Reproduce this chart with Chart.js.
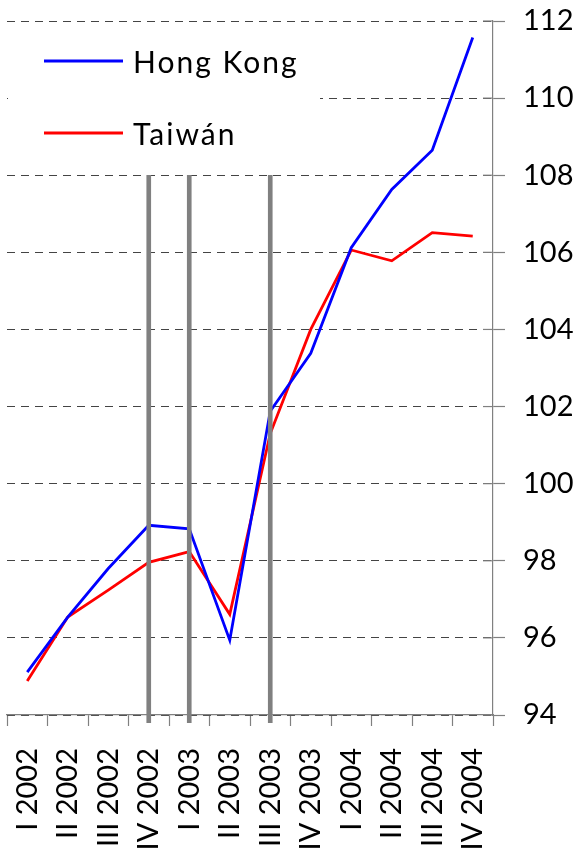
<!DOCTYPE html>
<html>
<head>
<meta charset="utf-8">
<title>Hong Kong / Taiwán</title>
<script src="https://cdn.jsdelivr.net/npm/chart.js@4.4.1/dist/chart.umd.min.js"></script>
<style>
  html, body { margin: 0; padding: 0; background: #fff; }
  #wrap { width: 575px; height: 855px; position: relative; }
</style>
</head>
<body>
<div id="wrap"><canvas id="chart"></canvas></div>
<script>
const quarters = ['I 2002', 'II 2002', 'III 2002', 'IV 2002', 'I 2003', 'II 2003',
  'III 2003', 'IV 2003', 'I 2004', 'II 2004', 'III 2004', 'IV 2004'];
const hongKong = [95.11, 96.54, 97.80, 98.92, 98.83, 95.94, 101.88, 103.38, 106.12, 107.63, 108.65, 111.57];
const taiwan = [94.88, 96.54, 97.24, 97.96, 98.24, 96.61, 101.30, 104.00, 106.06, 105.78, 106.51, 106.42];
// grey vertical markers (low, high) at IV 2002, I 2003 and III 2003
const markers = [null, null, null, [93.8, 108], [93.8, 108], null, [93.8, 108], null, null, null, null, null];
const yTicks = [94, 96, 98, 100, 102, 104, 106, 108, 110, 112];

const FONT = 'Lato';

// legend drawn inside the plot, on a white box
const boxLegend = {
  id: 'boxLegend',
  afterDatasetsDraw(chart) {
    const ctx = chart.ctx;
    const items = chart.data.datasets.filter(d => d.type === 'line');
    ctx.save();
    ctx.fillStyle = '#fff';
    ctx.fillRect(chart.chartArea.left + 1, 30, 312, 136);
    ctx.font = '30px ' + FONT;
    ctx.letterSpacing = '2px';
    ctx.textBaseline = 'middle';
    items.forEach((d, i) => {
      const y = 61 + i * 72;
      ctx.strokeStyle = d.borderColor;
      ctx.lineWidth = 2.8;
      ctx.beginPath();
      ctx.moveTo(44, y);
      ctx.lineTo(123, y);
      ctx.stroke();
      ctx.fillStyle = '#000';
      ctx.fillText(d.label, 133, y + 2);
    });
    ctx.restore();
  }
};

// short tick marks on the inner side of the right axis
const innerTicks = {
  id: 'innerTicks',
  afterDraw(chart) {
    const s = chart.scales.y;
    const ctx = chart.ctx;
    ctx.save();
    ctx.strokeStyle = '#808080';
    ctx.lineWidth = 1.2;
    s.ticks.forEach(t => {
      const y = s.getPixelForValue(t.value);
      ctx.beginPath();
      ctx.moveTo(chart.chartArea.right - 10, y);
      ctx.lineTo(chart.chartArea.right, y);
      ctx.stroke();
    });
    ctx.restore();
  }
};

new Chart(document.getElementById('chart'), {
  data: {
    labels: quarters,
    datasets: [
      {
        type: 'bar',
        label: 'markers',
        data: markers,
        backgroundColor: '#808080',
        barThickness: 4,
        order: 0,
        clip: false
      },
      {
        type: 'line',
        label: 'Hong Kong',
        data: hongKong,
        borderColor: '#0000ff',
        borderWidth: 2.8,
        pointRadius: 0,
        tension: 0,
        order: 1
      },
      {
        type: 'line',
        label: 'Taiwán',
        data: taiwan,
        borderColor: '#ff0000',
        borderWidth: 2.8,
        pointRadius: 0,
        tension: 0,
        order: 1
      }
    ]
  },
  options: {
    responsive: true,
    maintainAspectRatio: false,
    animation: false,
    layout: { padding: { top: 21, left: 7, right: 0, bottom: 0 } },
    plugins: {
      legend: { display: false },
      tooltip: { enabled: false }
    },
    scales: {
      x: {
        offset: true,
        grid: { offset: true, drawOnChartArea: false, tickLength: 11, tickColor: '#808080', tickWidth: 1.2 },
        border: { color: '#808080', width: 1.2 },
        ticks: {
          autoSkip: false, minRotation: 90, maxRotation: 90, padding: 22,
          color: '#000', font: { family: FONT, size: 29 }
        },
        afterFit(s) { s.height = 140; }
      },
      y: {
        position: 'right',
        min: 94,
        max: 112,
        afterBuildTicks(s) { s.ticks = yTicks.map(v => ({ value: v })); },
        grid: { color: '#444', lineWidth: 1, tickLength: 12, tickColor: '#808080', tickWidth: 1.2 },
        border: { dash: [8, 6], color: '#808080', width: 1.2 },
        ticks: { padding: 18, color: '#000', font: { family: FONT, size: 29 } },
        afterFit(s) { s.width = 82; s.paddingTop = 0; s.paddingBottom = 0; }
      }
    }
  },
  plugins: [boxLegend, innerTicks]
});
</script>
</body>
</html>
